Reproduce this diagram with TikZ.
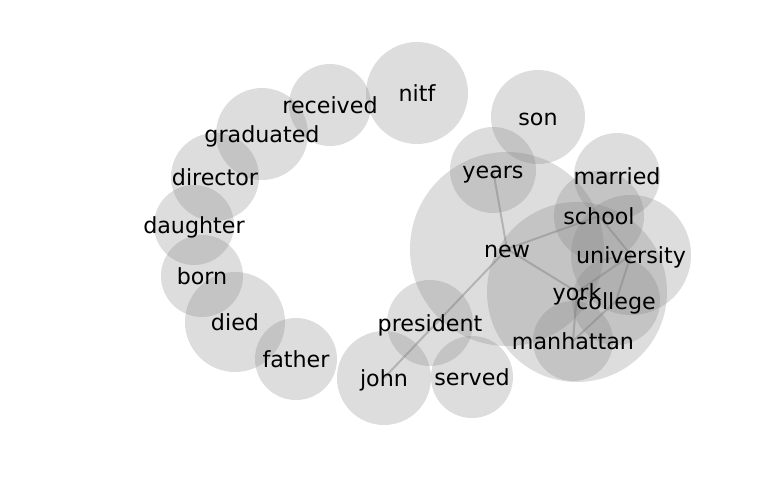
\documentclass[tikz,border=0pt]{standalone}
\usepackage{fontspec}
\setmainfont{DejaVu Sans}
\begin{document}
\begin{tikzpicture}[x=1pt,y=-1pt,
  bubble/.style={fill=gray,fill opacity=0.27,draw=none},
  link/.style={draw=gray,draw opacity=0.45,line width=2pt},
  lbl/.style={font=\fontsize{22.2}{26}\selectfont,inner sep=0pt,text height=16.9pt,text depth=5.3pt,anchor=center,yshift=-3pt}]
\useasboundingbox (0,0) rectangle (768,500);
% node positions
\coordinate (nitf) at (417,93);
\coordinate (received) at (330,105);
\coordinate (graduated) at (262,134);
\coordinate (director) at (215,177);
\coordinate (daughter) at (194,225);
\coordinate (born) at (202,276);
\coordinate (died) at (235,322);
\coordinate (father) at (296,359);
\coordinate (john) at (384,378);
\coordinate (president) at (430,323);
\coordinate (served) at (472,377);
\coordinate (son) at (538,117);
\coordinate (years) at (493,170);
\coordinate (married) at (617,176);
\coordinate (school) at (599,216);
\coordinate (university) at (631,255);
\coordinate (college) at (616,301);
\coordinate (york) at (577,292);
\coordinate (new) at (507,249);
\coordinate (manhattan) at (573,341);
% circles
\fill[bubble] (nitf) circle (51);
\fill[bubble] (received) circle (41);
\fill[bubble] (graduated) circle (46);
\fill[bubble] (director) circle (44);
\fill[bubble] (daughter) circle (40);
\fill[bubble] (born) circle (41);
\fill[bubble] (died) circle (50);
\fill[bubble] (father) circle (41);
\fill[bubble] (john) circle (47);
\fill[bubble] (president) circle (43);
\fill[bubble] (served) circle (41);
\fill[bubble] (son) circle (47);
\fill[bubble] (years) circle (43);
\fill[bubble] (married) circle (43);
\fill[bubble] (school) circle (45);
\fill[bubble] (university) circle (60);
\fill[bubble] (college) circle (44);
\fill[bubble] (york) circle (90);
\fill[bubble] (new) circle (97);
\fill[bubble] (manhattan) circle (40);
% edges
\draw[link] (years) -- (new);
\draw[link] (new) -- (school);
\draw[link] (new) -- (york);
\draw[link] (new) -- (john);
\draw[link] (school) -- (university);
\draw[link] (university) -- (york);
\draw[link] (university) -- (college);
\draw[link] (college) -- (manhattan);
\draw[link] (york) -- (manhattan);
% labels
\node[lbl] (t-nitf) at (nitf) {nitf};
\node[lbl] (t-received) at (received) {received};
\node[lbl] (t-graduated) at (graduated) {graduated};
\node[lbl] (t-director) at (director) {director};
\node[lbl] (t-daughter) at (daughter) {daughter};
\node[lbl] (t-born) at (born) {born};
\node[lbl] (t-died) at (died) {died};
\node[lbl] (t-father) at (father) {father};
\node[lbl] (t-john) at (john) {john};
\node[lbl] (t-president) at (president) {president};
\node[lbl] (t-served) at (served) {served};
\node[lbl] (t-son) at (son) {son};
\node[lbl] (t-years) at (years) {years};
\node[lbl] (t-married) at (married) {married};
\node[lbl] (t-school) at (school) {school};
\node[lbl] (t-university) at (university) {university};
\node[lbl] (t-college) at (college) {college};
\node[lbl] (t-york) at (york) {york};
\node[lbl] (t-new) at (new) {new};
\node[lbl] (t-manhattan) at (manhattan) {manhattan};
\end{tikzpicture}
\end{document}
